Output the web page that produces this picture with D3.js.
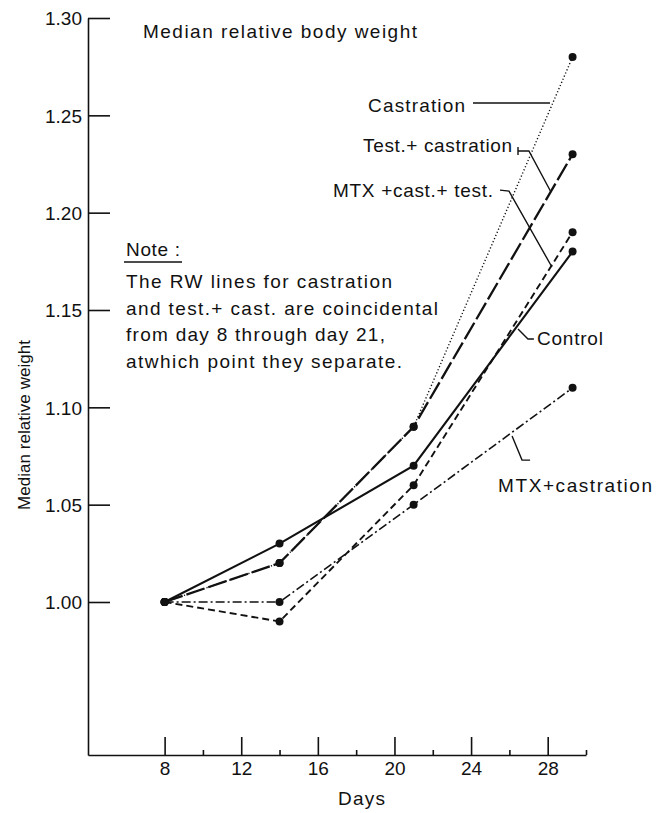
<!DOCTYPE html>
<html>
<head>
<meta charset="utf-8">
<script src="https://cdn.jsdelivr.net/npm/d3@7"></script>
<style>
  body { margin: 0; background: #fff; }
  text { font-family: "Liberation Sans", sans-serif; fill: #111; }
</style>
</head>
<body>
<div class="weight-graph"></div>
<script>
"use strict";

// values
const days = [8, 14, 21, 29.3];
const castration = [1.0, 1.02, 1.09, 1.28];
const testCastration = [1.0, 1.02, 1.09, 1.23];
const control = [1.0, 1.03, 1.07, 1.18];
const mtxCastTest = [1.0, 0.99, 1.06, 1.19];
const mtxCastration = [1.0, 1.0, 1.05, 1.11];

const yTicks = [1.0, 1.05, 1.1, 1.15, 1.2, 1.25, 1.3];
const xTicks = [8, 12, 16, 20, 24, 28];
const xMinorTicks = [10, 14, 18, 22, 26, 30];

const noteLines = [
  "The RW lines for castration",
  "and test.+ cast. are coincidental",
  "from day 8 through day 21,",
  "atwhich point they separate.",
];

const width = 656;
const height = 813;

const svg = d3
  .select(".weight-graph")
  .append("svg")
  .attr("width", width)
  .attr("height", height);

const x = d3.scaleLinear().domain([4, 30]).range([88, 586]);
const y = d3.scaleLinear().domain([0.9214, 1.3]).range([755, 18]);

// axes
const yAxis = d3
  .axisLeft(y)
  .tickValues(yTicks)
  .tickFormat(d3.format(".2f"))
  .tickSizeInner(-22)
  .tickSizeOuter(0)
  .tickPadding(6);

const xAxis = d3
  .axisBottom(x)
  .tickValues(xTicks)
  .tickFormat(d3.format("d"))
  .tickSizeInner(-18)
  .tickSizeOuter(0)
  .tickPadding(7);

const xMinor = d3
  .axisBottom(x)
  .tickValues(xMinorTicks)
  .tickFormat("")
  .tickSizeInner(-5)
  .tickSizeOuter(0);

const yGroup = svg
  .append("g")
  .attr("transform", `translate(${x(4)},0)`)
  .call(yAxis);

svg
  .append("g")
  .attr("transform", `translate(0,${y.range()[0]})`)
  .call(xAxis);

svg
  .append("g")
  .attr("transform", `translate(0,${y.range()[0]})`)
  .call(xMinor)
  .call((g) => g.select(".domain").remove());

svg
  .selectAll(".domain, .tick line")
  .attr("stroke", "#111")
  .attr("stroke-width", 1.6);

svg
  .selectAll(".tick text")
  .attr("font-family", "Liberation Sans, sans-serif")
  .attr("font-size", "19px")
  .attr("fill", "#111");

yGroup.selectAll(".tick text").attr("dy", "0.36em");

// axis titles
svg
  .append("text")
  .attr("transform", `translate(30,425) rotate(-90)`)
  .attr("text-anchor", "middle")
  .attr("font-size", "17px")
  .attr("textLength", 170)
  .attr("lengthAdjust", "spacing")
  .text("Median relative weight");

svg
  .append("text")
  .attr("x", 338)
  .attr("y", 805)
  .attr("font-size", "19px")
  .attr("textLength", 47)
  .attr("lengthAdjust", "spacing")
  .text("Days");

svg
  .append("text")
  .attr("x", 143)
  .attr("y", 38)
  .attr("font-size", "19px")
  .attr("textLength", 274)
  .attr("lengthAdjust", "spacing")
  .text("Median relative body weight");

// series
const series = [
  { name: "Castration", values: castration, dash: "1.2,2.2", w: 1.4 },
  { name: "MTX+castration", values: mtxCastration, dash: "9,3,2,3", w: 1.6 },
  { name: "MTX +cast.+ test.", values: mtxCastTest, dash: "7,4", w: 1.9 },
  { name: "Control", values: control, dash: null, w: 2.1 },
  { name: "Test.+ castration", values: testCastration, dash: "19,4", w: 2.3 },
];

const line = d3
  .line()
  .x((d) => x(d[0]))
  .y((d) => y(d[1]));

series.forEach((s) => {
  const pts = days.map((d, i) => [d, s.values[i]]);
  svg
    .append("path")
    .datum(pts)
    .attr("fill", "none")
    .attr("stroke", "#111")
    .attr("stroke-width", s.w)
    .attr("stroke-dasharray", s.dash)
    .attr("d", line);

  svg
    .append("g")
    .selectAll("circle")
    .data(pts)
    .join("circle")
    .attr("cx", (d) => x(d[0]))
    .attr("cy", (d) => y(d[1]))
    .attr("r", 4)
    .attr("fill", "#111");
});

// labels with leader lines (in data units)
const labels = [
  { text: "Castration", at: [18.62, 1.2515], len: 97 },
  { text: "Test.+ castration", at: [18.36, 1.231], len: 149 },
  { text: "MTX +cast.+ test.", at: [16.79, 1.208], len: 160 },
  { text: "Control", at: [27.44, 1.132], len: 66 },
  { text: "MTX+castration", at: [25.41, 1.0565], len: 154 },
];

const leaders = [
  [[24.1, 1.2563], [28.12, 1.2563]],
  [[26.45, 1.2337], [26.45, 1.2296]],
  [[26.45, 1.2317], [27.02, 1.2317], [28.17, 1.2106]],
  [[25.51, 1.2116], [25.98, 1.2111], [28.22, 1.1721]],
  [[26.45, 1.1402], [26.97, 1.1351], [27.28, 1.1351]],
  [[26.14, 1.0853], [26.66, 1.0729], [27.08, 1.0729]],
];

svg
  .append("g")
  .selectAll("text")
  .data(labels)
  .join("text")
  .attr("x", (d) => x(d.at[0]))
  .attr("y", (d) => y(d.at[1]))
  .attr("font-size", "19px")
  .attr("textLength", (d) => d.len)
  .attr("lengthAdjust", "spacing")
  .text((d) => d.text);

svg
  .append("g")
  .selectAll("path")
  .data(leaders)
  .join("path")
  .attr("fill", "none")
  .attr("stroke", "#111")
  .attr("stroke-width", 1.4)
  .attr("d", d3.line().x((d) => x(d[0])).y((d) => y(d[1])));

// note block
const note = svg.append("g").attr("transform", "translate(126,0)");

note
  .append("text")
  .attr("x", 0)
  .attr("y", 256)
  .attr("font-size", "19px")
  .attr("textLength", 54)
  .attr("lengthAdjust", "spacing")
  .text("Note :");

note
  .append("line")
  .attr("x1", -2)
  .attr("x2", 56)
  .attr("y1", 262)
  .attr("y2", 262)
  .attr("stroke", "#111")
  .attr("stroke-width", 1.4);

const noteWidths = [266, 312, 259, 276];

note
  .selectAll("text.note-line")
  .data(noteLines)
  .join("text")
  .attr("class", "note-line")
  .attr("x", 0)
  .attr("y", (d, i) => 288 + i * 26.5)
  .attr("font-size", "19px")
  .attr("textLength", (d, i) => noteWidths[i])
  .attr("lengthAdjust", "spacing")
  .text((d) => d);
</script>
</body>
</html>
